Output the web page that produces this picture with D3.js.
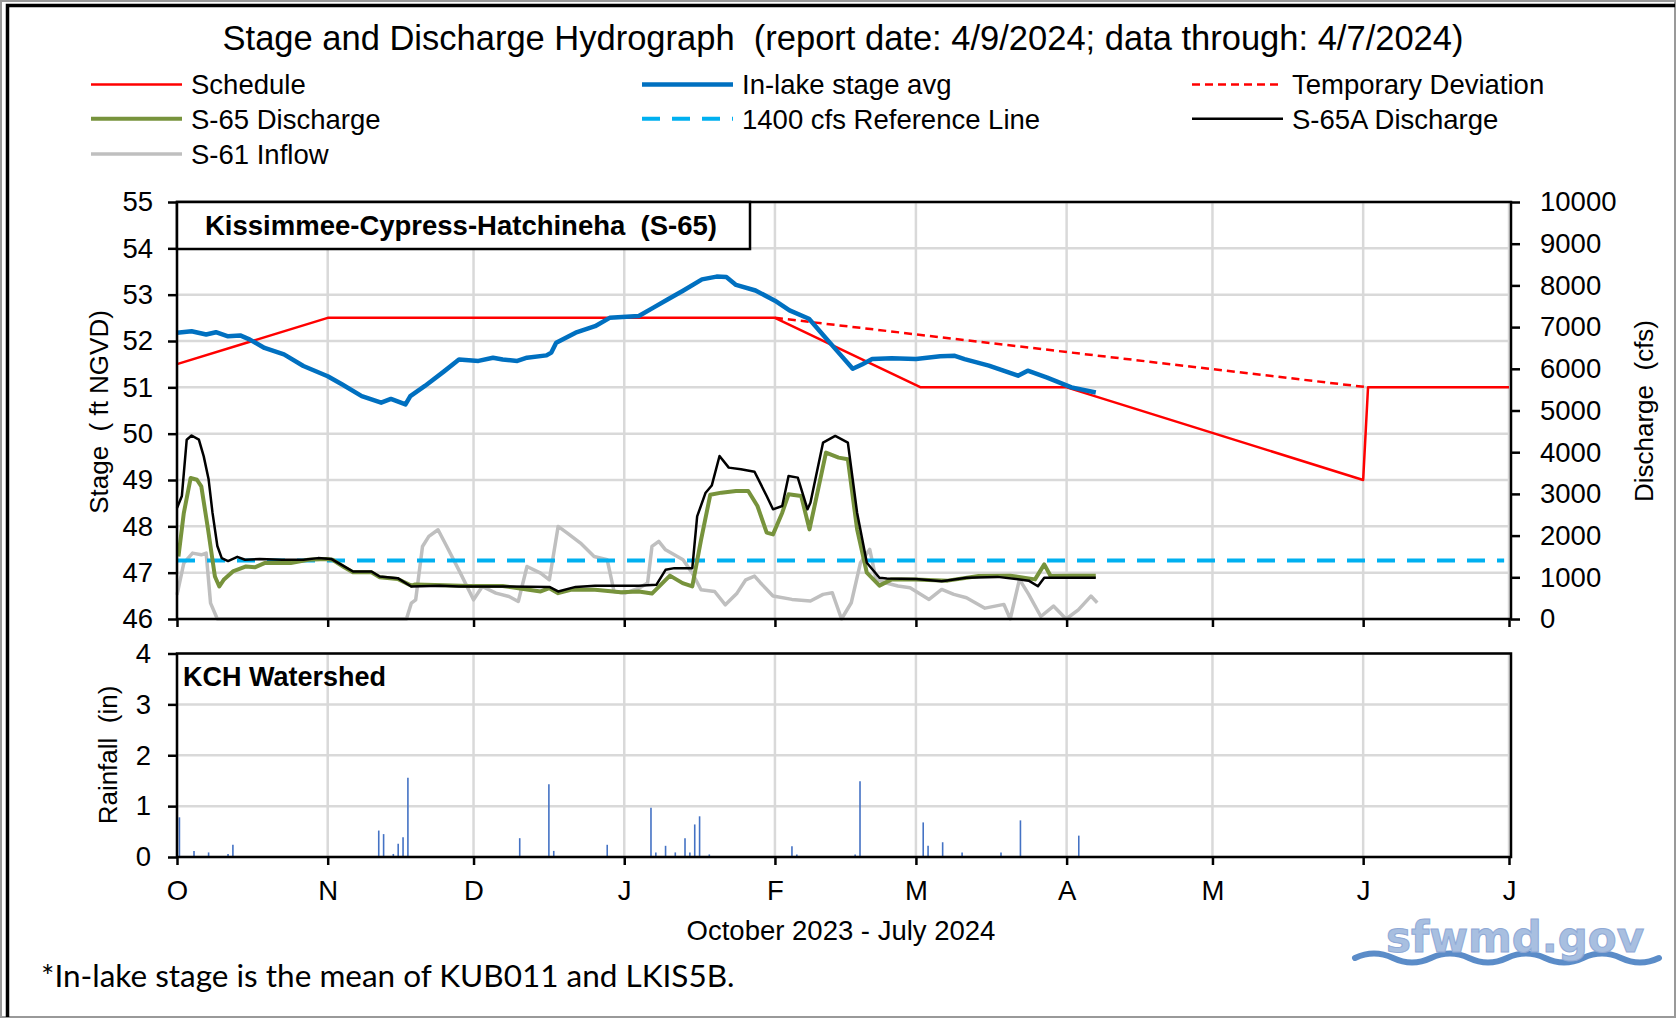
<!DOCTYPE html>
<html>
<head>
<meta charset="utf-8">
<script src="https://cdn.jsdelivr.net/npm/d3@7"></script>
<style>
  body { margin: 0; background: #fff; }
  text { font-family: "Liberation Sans", Arial, sans-serif; fill: #000; white-space: pre; }
</style>
</head>
<body>
<div class="box"></div>
<script>
// --- data (day offsets from Oct 1, 2023) ---
const monthLabels = ['O', 'N', 'D', 'J', 'F', 'M', 'A', 'M', 'J', 'J']
const stageTicks = [46, 47, 48, 49, 50, 51, 52, 53, 54, 55]
const flowTicks = [0, 1000, 2000, 3000, 4000, 5000, 6000, 7000, 8000, 9000, 10000]
const rainTicks = [0, 1, 2, 3, 4]

const stageDays = [0, 3, 6, 8, 10.5, 13, 15, 18, 22, 26, 31, 34, 38, 42, 44, 47, 48, 51, 55, 58, 62, 65, 67, 70, 72, 76, 77, 78, 82, 86, 89, 95, 98, 101, 104, 108, 111, 113, 115, 119, 123, 126, 130, 133, 136, 139, 141, 143, 147, 152, 157, 160, 162, 167, 173, 175, 179, 184, 189]
const stageVals = [52.18, 52.21, 52.14, 52.19, 52.1, 52.12, 52.03, 51.85, 51.71, 51.46, 51.24, 51.06, 50.81, 50.67, 50.75, 50.63, 50.81, 51.03, 51.35, 51.6, 51.57, 51.64, 51.6, 51.57, 51.64, 51.69, 51.75, 51.96, 52.18, 52.32, 52.5, 52.54, 52.72, 52.9, 53.08, 53.33, 53.39, 53.38, 53.21, 53.09, 52.87, 52.66, 52.48, 52.12, 51.76, 51.4, 51.5, 51.61, 51.63, 51.61, 51.67, 51.68, 51.61, 51.47, 51.25, 51.36, 51.21, 51.0, 50.89]

const scheduleDays = [0, 31, 123, 153, 183, 244, 245, 274]
const scheduleVals = [51.5, 52.5, 52.5, 51.0, 51.0, 49.0, 51.0, 51.0]

const deviationDays = [123, 245]
const deviationVals = [52.5, 51.0]

const referenceDays = [0, 273]
const referenceVals = [1400, 1400]

const s65aDays = [0, 1, 2, 3, 4.5, 5.5, 6.5, 7.3, 8.3, 9.2, 10.5, 12.4, 14, 17, 21.6, 26, 29, 31.7, 34.4, 36.2, 40, 41.7, 45.4, 48.2, 54, 58, 67, 76.6, 78.4, 82, 86, 95, 98.6, 100.5, 102.3, 106, 107, 108.7, 110, 111.6, 113.5, 116, 118.8, 121.3, 122.6, 124.5, 125.8, 127.7, 129.7, 130.3, 132.9, 135.4, 138, 139.9, 141.9, 144.5, 146, 152, 157.3, 162.4, 168.8, 175.2, 177.1, 178.4, 184, 189]
const s65aVals = [2660, 2950, 4300, 4400, 4300, 3900, 3350, 2550, 1750, 1460, 1390, 1490, 1420, 1440, 1420, 1420, 1460, 1440, 1260, 1140, 1140, 1020, 980, 780, 800, 780, 780, 770, 660, 770, 800, 800, 820, 1180, 1220, 1220, 2460, 3020, 3200, 3910, 3630, 3590, 3530, 2950, 2630, 2710, 3430, 3390, 2630, 2790, 4230, 4390, 4230, 2550, 1350, 990, 970, 960, 905, 990, 1010, 920, 785, 990, 990, 990]

const s65Days = [0.3, 1.4, 2.8, 4.1, 5, 6.4, 7.8, 8.7, 9.6, 11.5, 14.2, 16, 18, 21, 23.4, 27, 30.7, 32, 34.4, 36.2, 40, 41.7, 45.4, 48.2, 49, 55, 60, 67, 74.8, 76.6, 78.4, 81, 86, 91.3, 95, 97.7, 101.4, 104, 106, 107.8, 109.7, 112, 115, 117.5, 119.4, 121.3, 122.6, 124.5, 125.8, 128.4, 130.1, 131, 133.5, 136.1, 138, 139.9, 141.9, 144.5, 147, 152, 158.5, 164.9, 171.4, 176.5, 178.4, 179.7, 184, 189]
const s65Vals = [1500, 2540, 3380, 3340, 3180, 2140, 1020, 780, 940, 1140, 1260, 1240, 1340, 1340, 1340, 1420, 1440, 1420, 1240, 1120, 1120, 1000, 960, 800, 830, 810, 790, 790, 660, 740, 620, 700, 700, 640, 660, 610, 1040, 860, 780, 1900, 2980, 3030, 3070, 3070, 2710, 2070, 2030, 2550, 2990, 2950, 2150, 2630, 3990, 3870, 3830, 2150, 1110, 800, 950, 950, 920, 1030, 1040, 950, 1310, 1030, 1040, 1040]

const s61Days = [0, 1.4, 3.2, 5, 6, 6.9, 8.3, 47.2, 48.2, 49.1, 50.5, 51.8, 53.7, 55.5, 58.3, 61, 62.8, 65.6, 68.3, 70.2, 72, 74.8, 76.6, 78.4, 80.3, 83, 85.8, 88.5, 89.9, 92.2, 95, 96.8, 97.7, 99.1, 100.5, 104.1, 106, 107.8, 110.6, 112.8, 115.2, 117, 118.8, 120, 122.6, 126.5, 130.3, 132.9, 134.8, 136.7, 138.7, 140.6, 142.5, 143.8, 145.7, 148.3, 150.8, 154.7, 157.3, 159.8, 162.4, 166.2, 170.1, 171.4, 173.3, 175.2, 177.7, 180.3, 182.9, 185.4, 188, 189.3]
const s61Vals = [580, 1340, 1580, 1540, 1580, 380, 0, 0, 380, 460, 1740, 1980, 2140, 1740, 1100, 460, 780, 620, 540, 420, 1260, 1100, 940, 2220, 2060, 1820, 1500, 1420, 660, 620, 740, 860, 1740, 1860, 1660, 1420, 1100, 700, 660, 340, 620, 940, 1030, 870, 550, 470, 430, 590, 630, 0, 390, 1350, 1670, 950, 870, 790, 750, 470, 710, 590, 510, 260, 350, 0, 950, 590, 60, 310, 0, 220, 550, 390]

const rainDays = [0, 3, 6, 10, 11, 41, 42, 44, 45, 46, 47, 70, 76, 77, 88, 97, 98, 100, 102, 104, 105, 106, 107, 109, 126, 127, 139, 140, 153, 154, 157, 161, 169, 173, 185]
const rainVals = [0.78, 0.12, 0.09, 0.06, 0.24, 0.52, 0.45, 0.06, 0.26, 0.39, 1.56, 0.37, 1.43, 0.12, 0.24, 0.97, 0.09, 0.22, 0.09, 0.37, 0.09, 0.64, 0.8, 0.05, 0.21, 0.05, 0.05, 1.49, 0.68, 0.22, 0.29, 0.09, 0.09, 0.72, 0.42]

// --- svg ---
const W = 1677, H = 1019
const svg = d3.select('.box').append('svg').attr('width', W).attr('height', H)

const start = new Date(Date.UTC(2023, 9, 1))
const end = new Date(Date.UTC(2024, 6, 1))
const day = d => start.getTime() + d * 864e5

const left = 177, right = 1511
const topY = 202, botY = 619
const rTop = 653.5, rBot = 857

const x = d3.scaleUtc().domain([start, end]).range([left, right - 2])
const yStage = d3.scaleLinear().domain([46, 55]).range([botY, topY])
const yFlow = d3.scaleLinear().domain([0, 10000]).range([botY, topY])
const yRain = d3.scaleLinear().domain([0, 4]).range([rBot, rTop])
const months = d3.utcMonth.range(start, d3.utcDay.offset(end, 1))

// gridlines
const grid = svg.append('g').attr('stroke', '#d9d9d9').attr('stroke-width', 2.5)
grid.selectAll('.hs').data(stageTicks).join('line')
  .attr('x1', left).attr('x2', right).attr('y1', d => yStage(d)).attr('y2', d => yStage(d))
grid.selectAll('.hr').data(rainTicks).join('line')
  .attr('x1', left).attr('x2', right).attr('y1', d => yRain(d)).attr('y2', d => yRain(d))
grid.selectAll('.vs').data(months).join('line')
  .attr('x1', d => x(d)).attr('x2', d => x(d)).attr('y1', topY).attr('y2', botY)
grid.selectAll('.vr').data(months).join('line')
  .attr('x1', d => x(d)).attr('x2', d => x(d)).attr('y1', rTop).attr('y2', rBot)

// series
const lineStage = (days, vals) => d3.line()
  .x((d, i) => x(day(days[i]))).y((d, i) => yStage(vals[i]))(vals)
const lineFlow = (days, vals) => d3.line()
  .x((d, i) => x(day(days[i]))).y((d, i) => yFlow(vals[i]))(vals)

const plot = svg.append('g').attr('fill', 'none').attr('stroke-linejoin', 'round')
plot.append('path').attr('d', lineFlow(s61Days, s61Vals)).attr('stroke', '#bfbfbf').attr('stroke-width', 3.5)
plot.append('path').attr('d', lineFlow(referenceDays, referenceVals)).attr('stroke', '#00b0f0').attr('stroke-width', 4).attr('stroke-dasharray', '18 12')
plot.append('path').attr('d', lineFlow(s65Days, s65Vals)).attr('stroke', '#77933c').attr('stroke-width', 4)
plot.append('path').attr('d', lineFlow(s65aDays, s65aVals)).attr('stroke', '#000').attr('stroke-width', 2.5)
plot.append('path').attr('d', lineStage(scheduleDays, scheduleVals)).attr('stroke', '#ff0000').attr('stroke-width', 2.5)
plot.append('path').attr('d', lineStage(deviationDays, deviationVals)).attr('stroke', '#ff0000').attr('stroke-width', 2.5).attr('stroke-dasharray', '8 5')
plot.append('path').attr('d', lineStage(stageDays, stageVals)).attr('stroke', '#0070c0').attr('stroke-width', 4.5)

// rainfall bars
svg.append('g').selectAll('line').data(rainVals).join('line')
  .attr('x1', (d, i) => x(day(rainDays[i] + 0.5))).attr('x2', (d, i) => x(day(rainDays[i] + 0.5)))
  .attr('y1', yRain(0)).attr('y2', d => yRain(d))
  .attr('stroke', '#4472c4').attr('stroke-width', 1.6)

// frames
svg.append('rect').attr('x', left).attr('y', topY).attr('width', right - left).attr('height', botY - topY)
  .attr('fill', 'none').attr('stroke', '#000').attr('stroke-width', 2.5)
svg.append('rect').attr('x', left).attr('y', rTop).attr('width', right - left).attr('height', rBot - rTop)
  .attr('fill', 'none').attr('stroke', '#000').attr('stroke-width', 2.5)

// axes
const styleAxis = g => {
  g.select('.domain').remove()
  g.selectAll('.tick line').attr('stroke', '#000').attr('stroke-width', 2.5)
  g.selectAll('.tick text').style('font-family', '"Liberation Sans", Arial, sans-serif').style('font-size', '27.5px').attr('fill', '#000')
}
svg.append('g').attr('transform', `translate(${left},0)`)
  .call(d3.axisLeft(yStage).tickValues(stageTicks).tickSize(9).tickPadding(15).tickFormat(d3.format('d'))).call(styleAxis)
svg.append('g').attr('transform', `translate(${right},0)`)
  .call(d3.axisRight(yFlow).tickValues(flowTicks).tickSize(9).tickPadding(20).tickFormat(d3.format('d'))).call(styleAxis)
svg.append('g').attr('transform', `translate(${left},0)`)
  .call(d3.axisLeft(yRain).tickValues(rainTicks).tickSize(9).tickPadding(17).tickFormat(d3.format('d'))).call(styleAxis)
svg.append('g').attr('transform', `translate(0,${botY})`)
  .call(d3.axisBottom(x).tickValues(months).tickSize(8).tickFormat(() => '')).call(styleAxis)
svg.append('g').attr('transform', `translate(0,${rBot})`)
  .call(d3.axisBottom(x).tickValues(months).tickSize(8).tickPadding(15).tickFormat((d, i) => monthLabels[i])).call(styleAxis)

// subtitle boxes
svg.append('rect').attr('x', left).attr('y', topY).attr('width', 573).attr('height', 47)
  .attr('fill', '#fff').attr('stroke', '#000').attr('stroke-width', 2.5)
svg.append('text').attr('x', left + 284).attr('y', topY + 33).attr('text-anchor', 'middle')
  .style('font-weight', 'bold').style('font-size', '27.5px').text('Kissimmee-Cypress-Hatchineha  (S-65)')
svg.append('text').attr('x', 183).attr('y', 686)
  .style('font-weight', 'bold').style('font-size', '27px').text('KCH Watershed')

// title
svg.append('text').attr('x', 843).attr('y', 50).attr('text-anchor', 'middle')
  .style('font-size', '34.5px').text('Stage and Discharge Hydrograph  (report date: 4/9/2024; data through: 4/7/2024)')

// axis titles
svg.append('text').attr('transform', 'translate(108,412) rotate(-90)').attr('text-anchor', 'middle')
  .style('font-size', '26px').text('Stage  ( ft NGVD)')
svg.append('text').attr('transform', 'translate(1653,411) rotate(-90)').attr('text-anchor', 'middle')
  .style('font-size', '26px').text('Discharge  (cfs)')
svg.append('text').attr('transform', 'translate(117,755) rotate(-90)').attr('text-anchor', 'middle')
  .style('font-size', '26px').text('Rainfall  (in)')
svg.append('text').attr('x', 841).attr('y', 940).attr('text-anchor', 'middle')
  .style('font-size', '27.5px').text('October 2023 - July 2024')

// legend
const legend = [
  {name: 'Schedule', color: '#ff0000', w: 2.5, dash: null, col: 0, row: 0},
  {name: 'In-lake stage avg', color: '#0070c0', w: 4.5, dash: null, col: 1, row: 0},
  {name: 'Temporary Deviation', color: '#ff0000', w: 2.5, dash: '8 5', col: 2, row: 0},
  {name: 'S-65 Discharge', color: '#77933c', w: 4, dash: null, col: 0, row: 1},
  {name: '1400 cfs Reference Line', color: '#00b0f0', w: 4, dash: '18 12', col: 1, row: 1},
  {name: 'S-65A Discharge', color: '#000', w: 2.5, dash: null, col: 2, row: 1},
  {name: 'S-61 Inflow', color: '#bfbfbf', w: 3.5, dash: null, col: 0, row: 2}
]
const colX = [91, 642, 1192], rowY = [84.5, 118.7, 154]
const lg = svg.append('g').selectAll('g').data(legend).join('g')
  .attr('transform', d => `translate(${colX[d.col]},${rowY[d.row]})`)
lg.append('line').attr('x1', 0).attr('x2', 91)
  .attr('stroke', d => d.color).attr('stroke-width', d => d.w).attr('stroke-dasharray', d => d.dash)
lg.append('text').attr('x', 100).attr('dy', '0.36em').style('font-size', '27.5px').text(d => d.name)

// footnote
svg.append('text').attr('x', 41).attr('y', 987)
  .style('font-family', 'Lato, "Open Sans", sans-serif').style('font-size', '31.5px')
  .text('*In-lake stage is the mean of KUB011 and LKIS5B.')

// logo
svg.append('path')
  .attr('d', 'M1355,958 q19,-9 38,0 t38,0 t38,0 t38,0 t38,0 t38,0 t38,0 t38,0')
  .attr('fill', 'none').attr('stroke', '#5b8cc8').attr('stroke-width', 6).attr('stroke-linecap', 'round')
svg.append('text').attr('x', 1515).attr('y', 952).attr('text-anchor', 'middle')
  .style('font-family', '"DejaVu Sans", sans-serif').style('font-weight', 'bold').style('font-size', '42px')
  .attr('stroke', '#8fa9d6').attr('stroke-width', 1)
  .style('fill', '#a8bfe0').text('sfwmd.gov')

// outer border
svg.append('rect').attr('x', 1).attr('y', 1).attr('width', W - 3).attr('height', H - 3)
  .attr('fill', 'none').attr('stroke', '#999').attr('stroke-width', 2)
svg.append('path').attr('d', `M7.5,${H - 2} V5.5 H${W - 2}`)
  .attr('fill', 'none').attr('stroke', '#000').attr('stroke-width', 3.5)
</script>
</body>
</html>
